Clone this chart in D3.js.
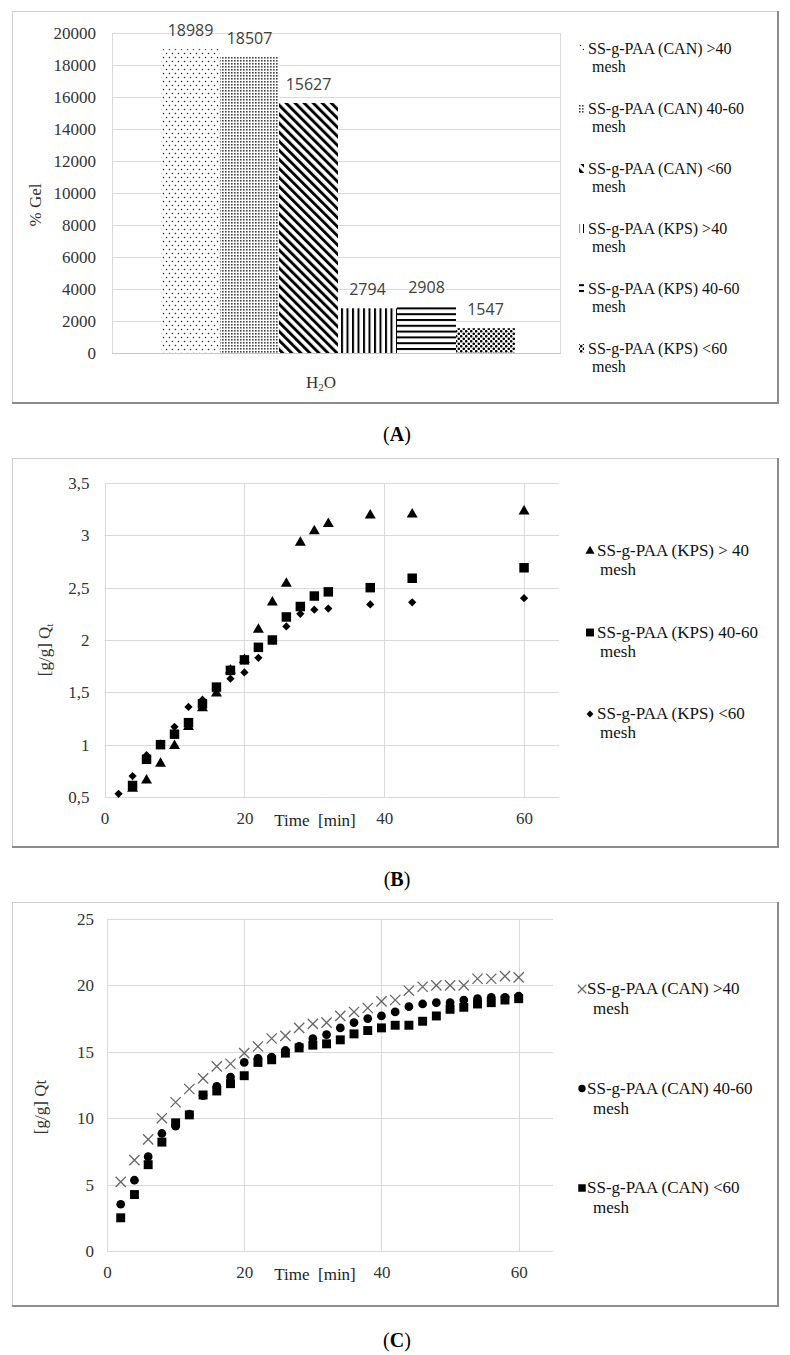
<!DOCTYPE html>
<meta charset="utf-8">
<body style="margin:0;background:#fff">
<script src="https://cdnjs.cloudflare.com/ajax/libs/d3/7.8.5/d3.min.js"></script>
<script>

// (A) % gel in water
var barSeries = ["SS-g-PAA (CAN) >40", "SS-g-PAA (CAN) 40-60", "SS-g-PAA (CAN) <60",
                 "SS-g-PAA (KPS) >40", "SS-g-PAA (KPS) 40-60", "SS-g-PAA (KPS) <60"];
var barValues = [18989, 18507, 15627, 2794, 2908, 1547];
var gelTicks = [0, 2000, 4000, 6000, 8000, 10000, 12000, 14000, 16000, 18000, 20000];

// (B) KPS samples, Qt vs time
var timeB = [2, 4, 6, 8, 10, 12, 14, 16, 18, 20, 22, 24, 26, 28, 30, 32, 38, 44, 60];
var kpsOver40 = [null, 0.58, 0.66, 0.82, 0.99, 1.17, 1.35, 1.49, 1.71, 1.81, 2.10, 2.36, 2.54, 2.93, 3.04, 3.11, 3.19, 3.20, 3.23];
var kps40to60 = [null, 0.61, 0.86, 1.00, 1.10, 1.21, 1.39, 1.55, 1.71, 1.81, 1.93, 2.00, 2.22, 2.32, 2.42, 2.46, 2.50, 2.59, 2.69];
var kpsUnder60 = [0.53, 0.70, 0.90, 1.01, 1.17, 1.36, 1.43, 1.55, 1.63, 1.69, 1.83, 2.00, 2.13, 2.25, 2.29, 2.30, 2.34, 2.36, 2.40];
var ticksB = [0.5, 1, 1.5, 2, 2.5, 3, 3.5];
var seriesB = ["SS-g-PAA (KPS) > 40", "SS-g-PAA (KPS) 40-60", "SS-g-PAA (KPS) <60"];

// (C) CAN samples, Qt vs time
var timeC = [2, 4, 6, 8, 10, 12, 14, 16, 18, 20, 22, 24, 26, 28, 30, 32, 34, 36, 38, 40, 42, 44, 46, 48, 50, 52, 54, 56, 58, 60];
var canOver40 = [5.2, 6.84, 8.4, 10.0, 11.2, 12.2, 13.0, 13.9, 14.1, 14.9, 15.4, 16.0, 16.2, 16.8, 17.1, 17.2, 17.7, 18.0, 18.3, 18.8, 18.9, 19.6, 19.9, 20.0, 20.0, 20.0, 20.5, 20.5, 20.7, 20.6];
var can40to60 = [3.52, 5.33, 7.1, 8.85, 9.4, 10.3, 11.7, 12.4, 13.1, 14.2, 14.5, 14.6, 15.1, 15.4, 16.0, 16.3, 16.8, 17.2, 17.5, 17.7, 18.0, 18.4, 18.6, 18.7, 18.7, 18.9, 19.0, 19.1, 19.1, 19.2];
var canUnder60 = [2.5, 4.25, 6.5, 8.2, 9.65, 10.25, 11.75, 12.05, 12.6, 13.2, 14.2, 14.4, 14.9, 15.3, 15.5, 15.6, 15.9, 16.35, 16.6, 16.8, 17.0, 17.0, 17.3, 17.7, 18.2, 18.35, 18.6, 18.7, 18.9, 19.0];
var ticksC = [0, 5, 10, 15, 20, 25];
var seriesC = ["SS-g-PAA (CAN) >40", "SS-g-PAA (CAN) 40-60", "SS-g-PAA (CAN) <60"];

var timeTicks = [0, 20, 40, 60];

var serif = "'Liberation Serif', 'Times New Roman', serif";
var grid = "#d9d9d9";

var svg = d3.select("body").append("svg")
            .attr("width", 790).attr("height", 1355)
            .attr("font-family", serif);

// ---- fill patterns for the bars ----
var defs = svg.append("defs");
function pat(id, w, h, tr) {
    var p = defs.append("pattern").attr("id", id)
                .attr("patternUnits", "userSpaceOnUse")
                .attr("width", w).attr("height", h);
    if (tr) p.attr("patternTransform", tr);
    p.append("rect").attr("width", w).attr("height", h).attr("fill", "#fff");
    return p;
}
var p0 = pat("p0", 6, 8);
p0.append("circle").attr("cx", 1.5).attr("cy", 1.5).attr("r", 0.75).attr("fill", "#222");
p0.append("circle").attr("cx", 4.5).attr("cy", 5.5).attr("r", 0.75).attr("fill", "#222");
var p1 = pat("p1", 3, 3);
p1.append("rect").attr("width", 1.6).attr("height", 1.6).attr("fill", "#444");
var p2 = pat("p2", 6.4, 6.4, "rotate(-45)");
p2.append("rect").attr("width", 2.9).attr("height", 6.4).attr("fill", "#000");
var p3 = pat("p3", 5.5, 6);
p3.append("rect").attr("width", 2).attr("height", 6).attr("fill", "#000");
var p4 = pat("p4", 6, 5.8);
p4.append("rect").attr("width", 6).attr("height", 2).attr("fill", "#000");
var p5 = pat("p5", 5, 5);
p5.append("circle").attr("cx", 1.25).attr("cy", 1.25).attr("r", 1.3).attr("fill", "#000");
p5.append("circle").attr("cx", 3.75).attr("cy", 3.75).attr("r", 1.3).attr("fill", "#000");
var fills = ["url(#p0)", "url(#p1)", "url(#p2)", "url(#p3)", "url(#p4)", "url(#p5)"];

// frame around each panel, darker on the right and bottom like the source
function frame(y0, y1) {
    svg.append("rect").attr("x", 12.5).attr("y", y0 + 0.5)
       .attr("width", 765).attr("height", y1 - y0)
       .attr("fill", "none").attr("stroke", "#cfcfcf");
    svg.append("path")
       .attr("d", "M778," + y0 + "V" + (y1 + 1) + "H12")
       .attr("fill", "none").attr("stroke", "#8c8c8c").attr("stroke-width", 2);
}

function caption(letter, y) {
    var t = svg.append("text").attr("x", 397).attr("y", y)
               .attr("text-anchor", "middle").attr("font-size", 20);
    t.append("tspan").text("(");
    t.append("tspan").attr("font-weight", "bold").text(letter);
    t.append("tspan").text(")");
}

function legendRows(g, names, x, y0, step, lineGap, indent, fs) {
    names.forEach(function(n, i) {
        var t = g.append("text").attr("font-size", fs).attr("fill", "#111");
        t.append("tspan").attr("x", x).attr("y", y0 + i*step).text(n);
        t.append("tspan").attr("x", x + indent).attr("y", y0 + i*step + lineGap).text("mesh");
    });
}

// ================= (A) =================
frame(11, 402);
var yA = d3.scaleLinear().domain([0, 20000]).range([353, 33]);
var xA = d3.scaleBand().domain(barSeries).range([161, 515]);
var gA = svg.append("g");

gA.append("rect").attr("x", 112.5).attr("y", 33.5).attr("width", 448).attr("height", 320)
  .attr("fill", "none").attr("stroke", grid);
gA.selectAll(".grid").data(gelTicks).enter().append("line")
  .attr("x1", 112).attr("x2", 561)
  .attr("y1", d => yA(d) + 0.5).attr("y2", d => yA(d) + 0.5)
  .attr("stroke", d => d === 0 ? "#c6c6c6" : grid);

gA.append("g").attr("transform", "translate(112,0)")
  .call(d3.axisLeft(yA).tickValues(gelTicks).tickSize(0).tickPadding(16).tickFormat(d3.format("d")))
  .call(a => a.select(".domain").remove())
  .call(a => a.selectAll("text").attr("font-family", serif).attr("font-size", 17).attr("fill", "#333"));

gA.selectAll(".bar").data(barValues).enter().append("rect")
  .attr("x", (d, i) => xA(barSeries[i]))
  .attr("width", xA.bandwidth())
  .attr("y", d => yA(d))
  .attr("height", d => yA(0) - yA(d))
  .attr("fill", (d, i) => fills[i]);

gA.selectAll(".val").data(barValues).enter().append("text")
  .attr("x", (d, i) => xA(barSeries[i]) + xA.bandwidth()/2)
  .attr("y", d => yA(d) - 13)
  .attr("text-anchor", "middle")
  .attr("font-family", "'Open Sans', sans-serif").attr("font-size", 16).attr("fill", "#404040")
  .text(d => d);

var h2o = gA.append("text").attr("x", 321).attr("y", 388).attr("text-anchor", "middle")
            .attr("font-size", 17).attr("fill", "#333");
h2o.append("tspan").text("H");
h2o.append("tspan").attr("font-size", 11).attr("dy", 3).text("2");
h2o.append("tspan").attr("dy", -3).text("O");

gA.append("text").attr("transform", "translate(41,205) rotate(-90)")
  .attr("text-anchor", "middle").attr("font-size", 17).attr("fill", "#333").text("% Gel");

var legA = svg.append("g");
legA.selectAll("rect").data(barSeries).enter().append("rect")
    .attr("x", 579).attr("y", (d, i) => 44 + i*60).attr("width", 5).attr("height", 9)
    .attr("fill", (d, i) => fills[i]);
legendRows(legA, barSeries, 588, 54, 60, 17.5, 4, 16);

caption("A", 441);

// ============ scatter panels ============
function scatter(o) {
    frame(o.top, o.bottom);
    var x = d3.scaleLinear().domain([0, 65]).range(o.xr);
    var y = d3.scaleLinear().domain(o.yd).range(o.yr);
    var g = svg.append("g");
    g.selectAll(".hg").data(o.yticks).enter().append("line")
     .attr("x1", o.xr[0]).attr("x2", o.xr[1])
     .attr("y1", d => Math.round(y(d)) + 0.5).attr("y2", d => Math.round(y(d)) + 0.5)
     .attr("stroke", grid);
    g.selectAll(".vg").data(timeTicks).enter().append("line")
     .attr("x1", d => Math.round(x(d)) + 0.5).attr("x2", d => Math.round(x(d)) + 0.5)
     .attr("y1", o.yr[1]).attr("y2", o.yr[0])
     .attr("stroke", grid);

    g.append("g").attr("transform", "translate(" + o.xr[0] + ",0)")
     .call(d3.axisLeft(y).tickValues(o.yticks).tickSize(0).tickPadding(o.ypad)
             .tickFormat(d => String(d).replace(".", ",")))
     .call(a => a.select(".domain").remove())
     .call(a => a.selectAll("text").attr("font-family", serif).attr("font-size", 17).attr("fill", "#333"));
    g.append("g").attr("transform", "translate(0," + o.yr[0] + ")")
     .call(d3.axisBottom(x).tickValues(timeTicks).tickSize(0).tickPadding(15))
     .call(a => a.select(".domain").remove())
     .call(a => a.selectAll("text").attr("font-family", serif).attr("font-size", 17).attr("fill", "#333"));

    g.append("text").attr("x", 315).attr("y", o.yr[0] + 29).attr("text-anchor", "middle")
     .attr("font-size", 17).attr("fill", "#222").attr("xml:space", "preserve").text("Time  [min]");
    var yt = g.append("text").attr("transform", "translate(" + o.ytx + "," + o.yty + ") rotate(-90)")
              .attr("text-anchor", "middle").attr("font-size", 17).attr("fill", "#333");
    yt.append("tspan").text("[g/g]  Q");
    yt.append("tspan").attr("font-size", o.subT ? 10 : 17).attr("dy", o.subT ? 3 : 0).text("t");

    o.series.forEach(function(s) {
        var pts = o.time.map((t, i) => [t, s.values[i]]).filter(p => p[1] != null);
        g.selectAll(null).data(pts).enter().append("path")
         .attr("transform", d => "translate(" + x(d[0]) + "," + y(d[1]) + ")" + (s.rot ? " rotate(45)" : ""))
         .attr("d", d3.symbol().type(s.type).size(s.size))
         .attr("fill", s.stroke ? "none" : "#000")
         .attr("stroke", s.stroke || "none")
         .attr("stroke-width", s.stroke ? 1.3 : 0);
    });

    var leg = svg.append("g");
    o.series.forEach(function(s, i) {
        leg.append("path")
           .attr("transform", "translate(" + o.legMx + "," + (o.legY + i*o.legStep - 5) + ")" + (s.rot ? " rotate(45)" : ""))
           .attr("d", d3.symbol().type(s.type).size(s.size*0.7))
           .attr("fill", s.stroke ? "none" : "#000")
           .attr("stroke", s.stroke || "none")
           .attr("stroke-width", s.stroke ? 1.2 : 0);
    });
    legendRows(leg, o.names, o.legX, o.legY, o.legStep, o.legGap, o.indent, 17);
}

// ================= (B) =================
scatter({
    top: 458, bottom: 846,
    xr: [104.6, 559], yd: [0.5, 3.5], yr: [797, 483], yticks: ticksB, ypad: 15,
    ytx: 50, yty: 650, subT: true,
    time: timeB, names: seriesB,
    series: [
        {values: kpsOver40, type: d3.symbolTriangle, size: 52},
        {values: kps40to60, type: d3.symbolSquare, size: 90},
        {values: kpsUnder60, type: d3.symbolSquare, size: 34, rot: true}
    ],
    legMx: 590, legX: 597, legY: 556, legStep: 81.5, legGap: 19, indent: 3
});
caption("B", 886);

// ================= (C) =================
scatter({
    top: 902, bottom: 1305,
    xr: [107, 553], yd: [0, 25], yr: [1251, 919], yticks: ticksC, ypad: 13,
    ytx: 46, yty: 1107, subT: false,
    time: timeC, names: seriesC,
    series: [
        {values: canOver40, type: d3.symbolTimes, size: 70, stroke: "#666"},
        {values: can40to60, type: d3.symbolCircle, size: 60},
        {values: canUnder60, type: d3.symbolSquare, size: 80}
    ],
    legMx: 582, legX: 587, legY: 994, legStep: 99.5, legGap: 20, indent: 6
});
caption("C", 1347);

</script>
